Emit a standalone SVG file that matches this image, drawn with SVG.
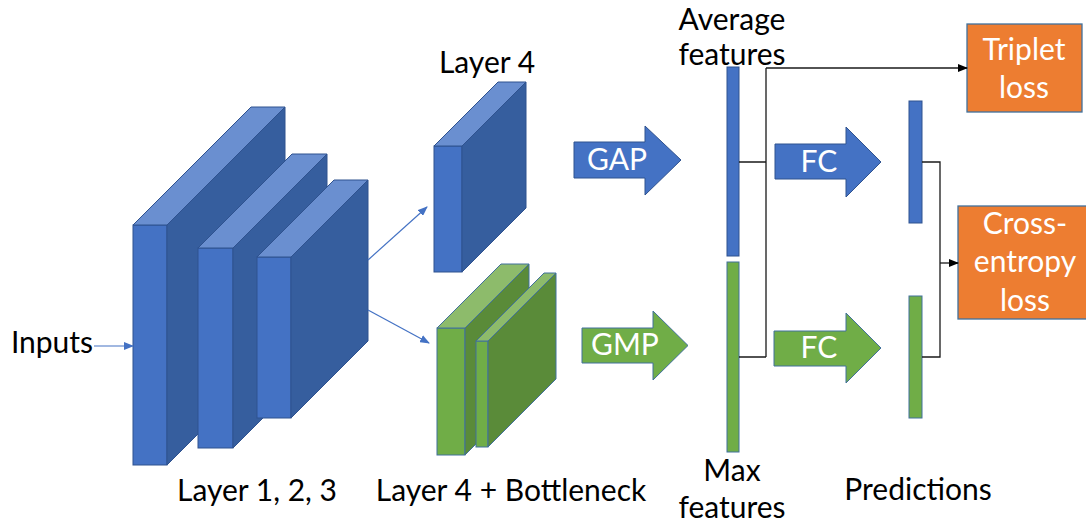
<svg xmlns="http://www.w3.org/2000/svg" width="1086" height="527" viewBox="0 0 1086 527">
<defs>
<style>
.t{font-family:Lato,"Liberation Sans",sans-serif;font-size:30px;fill:#000;text-anchor:middle}
.w{fill:#fff}
.bf{fill:#4472C4;stroke:#2F528F;stroke-width:1}
.bt{fill:#6A8FD0;stroke:#2F528F;stroke-width:1}
.bs{fill:#365E9E;stroke:#2F528F;stroke-width:1}
.gf{fill:#70AD47;stroke:#41719C;stroke-width:1}
.gt{fill:#8DBB6B;stroke:#41719C;stroke-width:1}
.gs{fill:#5A8B39;stroke:#41719C;stroke-width:1}
.box{fill:#ED7D31;stroke:#41719C;stroke-width:1.3}
.con{fill:none;stroke:#1a1a1a;stroke-width:1.3}
.bl{fill:none;stroke:#4472C4;stroke-width:1.2}
</style>
<marker id="ak" markerWidth="10" markerHeight="8" refX="9" refY="4" orient="auto" markerUnits="userSpaceOnUse">
<path d="M0,0 L10,4 L0,8 Z" fill="#000"/>
</marker>
<marker id="ab" markerWidth="10" markerHeight="8" refX="9" refY="4" orient="auto" markerUnits="userSpaceOnUse">
<path d="M0,0 L10,4 L0,8 Z" fill="#4472C4"/>
</marker>
</defs>
<rect width="1086" height="527" fill="#fff"/>

<g id="layer1">
<rect class="bf" x="133" y="225" width="34" height="240"/>
<polygon class="bt" points="133,225 251,107 285,107 167,225"/>
<polygon class="bs" points="167,225 285,107 285,347 167,465"/>
</g>
<g id="layer2">
<rect class="bf" x="198" y="248" width="35" height="200"/>
<polygon class="bt" points="198,248 292,154 327,154 233,248"/>
<polygon class="bs" points="233,248 327,154 327,354 233,448"/>
</g>
<g id="layer3">
<rect class="bf" x="257" y="257" width="34" height="161"/>
<polygon class="bt" points="257,257 334,180 368,180 291,257"/>
<polygon class="bs" points="291,257 368,180 368,341 291,418"/>
</g>
<g id="layer4">
<rect class="bf" x="434" y="146" width="28" height="126"/>
<polygon class="bt" points="434,146 498,82 526,82 462,146"/>
<polygon class="bs" points="462,146 526,82 526,208 462,272"/>
</g>
<g id="layer4-green">
<rect class="gf" x="437" y="328" width="28" height="127"/>
<polygon class="gt" points="437,328 501,264 529,264 465,328"/>
<polygon class="gs" points="465,328 529,264 529,391 465,455"/>
</g>
<g id="bottleneck">
<rect class="gf" x="476" y="341" width="12" height="106"/>
<polygon class="gt" points="476,341 544,273 556,273 488,341"/>
<polygon class="gs" points="488,341 556,273 556,379 488,447"/>
</g>

<g id="gap">
<polygon class="bf" points="574,142 645,142 645,126 681,160 645,195 645,178 574,178"/>
<text class="t w" x="617" y="170">GAP</text>
</g>
<g id="gmp">
<polygon class="gf" points="582,328 653,328 653,311 688,345.5 653,380 653,363 582,363"/>
<text class="t w" x="625" y="355">GMP</text>
</g>
<g id="fc1">
<polygon class="bf" points="775,144 846,144 846,127 881,162 846,197 846,179 775,179"/>
<text class="t w" x="819" y="172">FC</text>
</g>
<g id="fc2">
<polygon class="gf" points="774,331 846,331 846,313 881,348 846,383 846,366 774,366"/>
<text class="t w" x="819" y="358">FC</text>
</g>

<g id="avg-features">
<rect class="bf" x="727" y="67" width="12" height="189"/>
</g>
<g id="max-features">
<rect class="gf" x="727" y="262" width="12" height="190"/>
</g>
<g id="pred-blue">
<rect class="bf" x="909" y="101" width="13" height="122"/>
</g>
<g id="pred-green">
<rect class="gf" x="909" y="296" width="13" height="122"/>
</g>

<g id="triplet">
<rect class="box" x="967" y="24" width="115" height="88"/>
<text class="t w" x="1024" y="60">Triplet</text>
<text class="t w" x="1024" y="98">loss</text>
</g>
<g id="crossentropy">
<rect class="box" x="958" y="206" width="134" height="113"/>
<text class="t w" x="1025" y="234">Cross-</text>
<text class="t w" x="1025" y="272">entropy</text>
<text class="t w" x="1025" y="311">loss</text>
</g>

<g id="connectors">
<path class="bl" d="M94,346 H133" marker-end="url(#ab)"/>
<path class="bl" d="M368,260 L427,207" marker-end="url(#ab)"/>
<path class="bl" d="M368,310 L429,343" marker-end="url(#ab)"/>
<path class="con" d="M739,162 H766 M739,357 H766 M766,357 V68"/>
<path class="con" d="M766,68 H967" marker-end="url(#ak)"/>
<path class="con" d="M922,162 H940 V357 H922"/>
<path class="con" d="M940,263 H958" marker-end="url(#ak)"/>
</g>

<g id="labels">
<text class="t" x="52" y="353">Inputs</text>
<text class="t" x="487" y="73">Layer 4</text>
<text class="t" x="732" y="30">Average</text>
<text class="t" x="732" y="65">features</text>
<text class="t" x="257" y="501">Layer 1, 2, 3</text>
<text class="t" x="511" y="501">Layer 4 + Bottleneck</text>
<text class="t" x="732" y="481">Max</text>
<text class="t" x="732" y="518">features</text>
<text class="t" x="918" y="500">Predictions</text>
</g>
</svg>
